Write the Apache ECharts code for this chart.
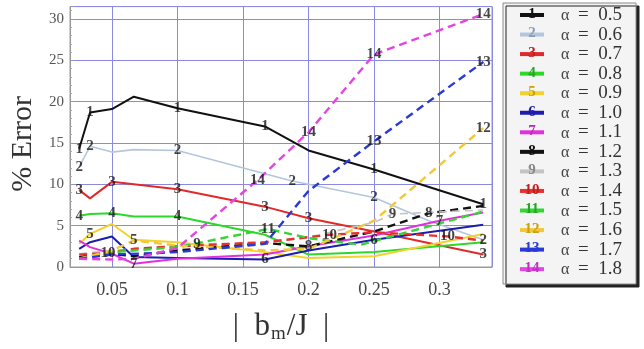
<!DOCTYPE html>
<html><head><meta charset="utf-8">
<script src="https://cdn.jsdelivr.net/npm/echarts@6/dist/echarts.min.js"></script>
<style>html,body{margin:0;padding:0;background:#fff}#c{width:644px;height:349px}</style>
</head><body><div id="c"></div>
<script>
// ---- data ----
const alphas = ['0.5','0.6','0.7','0.8','0.9','1.0','1.1','1.2','1.3','1.4','1.5','1.6','1.7','1.8'];
const xTicks = [0.05, 0.1, 0.15, 0.2, 0.25, 0.3];
const yTicks = [0, 5, 10, 15, 20, 25, 30];

const s1 = [[0.025,14.3],[0.0333,18.7],[0.05,19.1],[0.0667,20.6],[0.1,19.2],[0.1667,17.0],[0.2,14.1],[0.25,11.8],[0.3333,7.6]];
const m1 = [0.025,0.0333,0.1,0.1667,0.25,0.3333];
const s2 = [[0.025,12.1],[0.0333,14.6],[0.05,13.9],[0.0667,14.2],[0.1,14.1],[0.1875,10.4],[0.25,8.4],[0.2917,5.6],[0.3333,3.3]];
const m2 = [0.025,0.0333,0.1,0.1875,0.25,0.3333];
const s3 = [[0.025,9.3],[0.0333,8.3],[0.05,10.3],[0.1,9.4],[0.1667,7.3],[0.2,5.9],[0.25,4.3],[0.3333,1.5]];
const m3 = [0.025,0.05,0.1,0.1667,0.2,0.3333];
const s4 = [[0.025,6.2],[0.0333,6.4],[0.05,6.5],[0.0667,6.1],[0.1,6.1],[0.1667,3.9],[0.2,1.5],[0.25,1.8],[0.3333,3.0]];
const m4 = [0.025,0.05,0.1];
const s5 = [[0.025,2.8],[0.0333,4.0],[0.05,5.2],[0.0667,3.3],[0.1,3.0],[0.1667,1.8],[0.2,1.1],[0.25,1.3],[0.3333,4.0]];
const m5 = [0.0333,0.0667];
const s6 = [[0.025,2.2],[0.0333,3.0],[0.05,3.7],[0.0667,1.2],[0.1,1.1],[0.1667,0.9],[0.2,2.0],[0.25,3.3],[0.3333,5.1]];
const m6 = [0.1667,0.25];
const s7 = [[0.025,3.2],[0.0333,2.4],[0.05,1.6],[0.0667,0.4],[0.1,1.0],[0.1667,1.5],[0.2,2.5],[0.25,3.8],[0.3,5.6],[0.3333,6.6]];
const m7 = [0.0667,0.3];
const s8 = [[0.025,1.2],[0.0333,1.4],[0.05,1.6],[0.0667,1.3],[0.1,2.0],[0.1667,2.9],[0.2,2.5],[0.25,4.3],[0.2917,6.5],[0.3333,7.4]];
const m8 = [0.2,0.2917];
const s9 = [[0.025,1.6],[0.05,2.0],[0.1,2.6],[0.115,2.8],[0.1667,2.9],[0.2,3.6],[0.25,5.4],[0.264,6.4],[0.3333,6.9]];
const m9 = [0.115,0.264];
const s10 = [[0.025,1.5],[0.047,1.7],[0.0667,2.2],[0.1,2.5],[0.1667,3.0],[0.216,3.9],[0.25,4.2],[0.306,3.7],[0.3333,3.2]];
const m10 = [0.047,0.216,0.306];
const s11 = [[0.025,1.0],[0.05,1.8],[0.1,2.4],[0.169,4.6],[0.2,3.5],[0.24,2.7],[0.3333,6.7]];
const m11 = [0.169];
const s12 = [[0.025,1.0],[0.05,2.0],[0.0667,3.2],[0.1,2.6],[0.1667,2.0],[0.2,2.2],[0.25,5.6],[0.3333,16.8]];
const m12 = [0.3333];
const s13 = [[0.025,1.0],[0.05,1.5],[0.1,1.8],[0.1667,2.8],[0.2,9.2],[0.25,15.2],[0.3333,24.8]];
const m13 = [0.25,0.3333];
const s14 = [[0.025,1.0],[0.05,0.9],[0.0667,1.0],[0.1,2.3],[0.161,10.5],[0.2,16.3],[0.25,25.7],[0.3333,30.6]];
const m14 = [0.161,0.2,0.25,0.3333];

const allSeries = [s1,s2,s3,s4,s5,s6,s7,s8,s9,s10,s11,s12,s13,s14];
const allMarks = [m1,m2,m3,m4,m5,m6,m7,m8,m9,m10,m11,m12,m13,m14];

// ---- styles ----
const colors = ['#111111','#b4c6de','#e02a2a','#2cd82c','#f2d22e','#1c1cae','#e030e0',
                '#111111','#c4c4c4','#e83030','#34d434','#f2c83a','#2a3ad4','#e444e4'];
const numColors = ['#111111','#8a9cb4','#c02020','#20a820','#c8a010','#1c1cae','#c020c0',
                   '#111111','#888888','#c02020','#20a820','#c8a010','#2a3ad4','#c030c0'];
const serif = "'Times New Roman','Liberation Serif',Times,serif";

const series = [];
allSeries.forEach((pts, i) => {
  const isDashed = i >= 7;
  series.push({
    type: 'line', name: 'α = ' + alphas[i], data: pts, symbol: 'none', silent: true,
    lineStyle: { color: colors[i], width: i === 1 || i === 8 ? 1.6 : (isDashed ? 2.4 : 2), type: isDashed ? [8, 5] : 'solid' },
    z: 2
  });
});
allSeries.forEach((pts, i) => {
  const marked = pts.filter(p => allMarks[i].includes(p[0]));
  series.push({
    type: 'scatter', data: marked, symbol: 'circle', symbolSize: 1, silent: true,
    itemStyle: { color: colors[i] },
    label: { show: true, position: 'inside', formatter: String(i + 1),
             fontFamily: serif, fontWeight: 'bold', fontSize: 15, color: '#151515' },
    z: 5
  });
});

// ---- legend (drawn as graphic) ----
const lg = [];
lg.push({ type: 'rect', shape: { x: 503, y: 3, width: 133, height: 281 },
  style: { fill: '#f4f4f4', stroke: '#8a8a8a', lineWidth: 1, shadowColor: '#222', shadowOffsetX: 3, shadowOffsetY: 3, shadowBlur: 0 } });
alphas.forEach((a, i) => {
  const y = 15 + 19.55 * i;
  lg.push({ type: 'line', shape: { x1: 520, y1: y, x2: 544, y2: y },
    style: { stroke: colors[i], lineWidth: 4 } });
  lg.push({ type: 'text', x: 532, y: y - 1, style: { text: String(i + 1), fill: numColors[i],
    font: 'bold 15px ' + serif, align: 'center', verticalAlign: 'middle' } });
  lg.push({ type: 'text', x: 561, y: y + 1, style: { text: 'α', fill: '#444',
    font: '16px ' + serif, align: 'left', verticalAlign: 'middle' } });
  lg.push({ type: 'text', x: 578, y: y, style: { text: '=  ' + a, fill: '#333',
    font: '19px ' + serif, align: 'left', verticalAlign: 'middle' } });
});

const chart = echarts.init(document.getElementById('c'), null, { renderer: 'canvas' });
chart.setOption({
  animation: false,
  backgroundColor: '#ffffff',
  grid: { left: 70, right: 152, top: 6.6, bottom: 82, show: true, borderColor: '#9a9a9a', borderWidth: 1, backgroundColor: 'transparent' },
  xAxis: {
    type: 'value', min: 0.018, max: 0.34,
    name: '{a||  b}{s|m}{a|/J  |}', nameLocation: 'middle', nameGap: 42,
    nameTextStyle: { rich: { a: { fontFamily: serif, fontSize: 31, color: '#333' },
                             s: { fontFamily: serif, fontSize: 19, color: '#333', padding: [16, 1, 0, 1] } } },
    axisLine: { show: true, lineStyle: { color: '#9a9a9a' } },
    axisTick: { show: false },
    splitLine: { show: true, lineStyle: { color: '#8a8ae0', width: 1 } },
    axisLabel: { showMinLabel: false, showMaxLabel: false, margin: 14,
      fontFamily: serif, fontSize: 18, color: '#444',
      formatter: v => (xTicks.some(t => Math.abs(t - v) < 1e-9) ? String(+v.toFixed(2)) : '') }
  },
  yAxis: {
    type: 'value', min: 0, max: 31.5, interval: 5,
    name: '% Error', nameLocation: 'middle', nameGap: 21, nameRotate: 90,
    nameTextStyle: { fontFamily: serif, fontSize: 30, color: '#333', padding: [0, 14, 0, 0] },
    axisLine: { show: true, lineStyle: { color: '#9a9a9a' } },
    axisTick: { show: true, inside: true, length: 4, lineStyle: { color: '#9a9a9a' } },
    minorTick: { show: true, splitNumber: 5, length: 2, lineStyle: { color: '#aaaaaa' } },
    splitLine: { show: true, lineStyle: { color: '#8a8ae0', width: 1 } },
    axisLabel: { showMaxLabel: false, margin: 6, fontFamily: serif, fontSize: 15, color: '#555',
      formatter: v => (yTicks.includes(v) ? String(v) : '') }
  },
  series: series,
  graphic: lg
});
</script></body></html>
